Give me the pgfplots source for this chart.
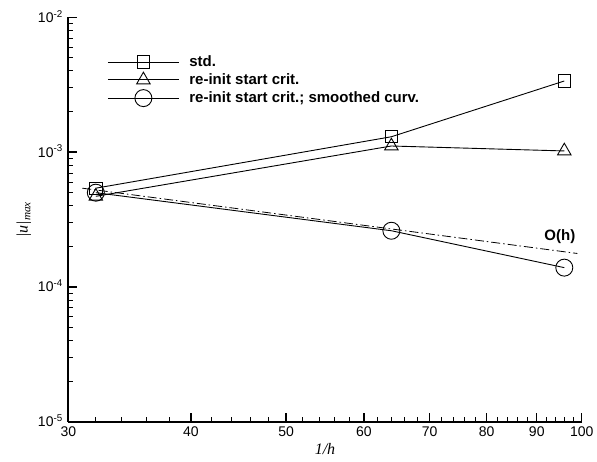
\documentclass[border=0pt]{standalone}
\usepackage{pgfplots}
\pgfplotsset{compat=1.18}
\usepackage{fontspec}
\setmainfont{Liberation Sans}
\newfontfamily\serif{Liberation Serif}

\begin{document}
\begin{tikzpicture}
\begin{axis}[
  scale only axis, width=513.4pt, height=404.4pt,
  xmode=log, ymode=log,
  xmin=30, xmax=100, ymin=1e-5, ymax=1e-2,
  axis lines*=left,
  axis line style={line width=1.8pt},
  tick align=inside,
  major tick length=9pt, minor tick length=5pt,
  every major tick/.style={black, line width=1.3pt},
  every minor tick/.style={black, line width=0.9pt},
  xtick={30,40,50,60,70,80,90,100},
  xticklabels={30,40,50,60,70,80,90,100},
  minor xtick={32,34,36,38,42,44,46,48,52,54,56,58,62,64,66,68,72,74,76,78,82,84,86,88,92,94,96,98},
  ytick={1e-5,1e-4,1e-3,1e-2},
  yticklabels={10\textsuperscript{-5},10\textsuperscript{-4},10\textsuperscript{-3},10\textsuperscript{-2}},
  minor ytick={2e-5,3e-5,4e-5,5e-5,6e-5,7e-5,8e-5,9e-5,2e-4,3e-4,4e-4,5e-4,6e-4,7e-4,8e-4,9e-4,2e-3,3e-3,4e-3,5e-3,6e-3,7e-3,8e-3,9e-3},
  tick label style={font=\fontsize{14}{16}\selectfont},
  yticklabel style={xshift=-2pt, yshift=1pt},
  xticklabel style={yshift=-1.5pt},
  xlabel={\serif\itshape 1/h},
  ylabel={\serif\itshape |u|\textsubscript{max}},
  label style={font=\fontsize{16}{18}\selectfont},
  legend style={draw=none, fill=none, at={(rel axis cs:0.07,0.915)}, anchor=north west,
    font=\bfseries\fontsize{15}{17}\selectfont, row sep=1.5pt, column sep=8pt, cells={anchor=west}},
  legend image code/.code={\draw[mark repeat=2,mark phase=2] plot coordinates {(0pt,0pt) (35.5pt,0pt) (71pt,0pt)};},
]
\addplot[black, line width=0.9pt, mark=square, mark size=6.2pt, mark options={solid, line width=0.9pt}]
  coordinates {(32,5.4e-4) (64,1.30e-3) (96,3.37e-3)};
\addlegendentry{std.}
\addplot[black, line width=0.9pt, mark=triangle, mark size=7.75pt, mark options={solid, line width=0.9pt}]
  coordinates {(32,4.7e-4) (64,1.11e-3) (96,1.02e-3)};
\addlegendentry{re-init start crit.}
\addplot[black, line width=0.9pt, mark=o, mark size=8.5pt, mark options={solid, line width=0.9pt}]
  coordinates {(32,5.0e-4) (64,2.61e-4) (96,1.39e-4)};
\addlegendentry{re-init start crit.; smoothed curv.}
\addplot[black, line width=0.8pt, dash pattern=on 9pt off 3pt on 1.5pt off 3pt, forget plot]
  coordinates {(31,5.4e-4) (99,1.77e-4)};
\node[font=\bfseries\fontsize{15}{17}\selectfont] at (axis cs:95,2.36e-4) {O(h)};
\end{axis}
\path (current axis.south west) ++(-68.3pt,-39.3pt);
\path (current axis.north east) ++(15.3pt,17.3pt);
\end{tikzpicture}
\end{document}
